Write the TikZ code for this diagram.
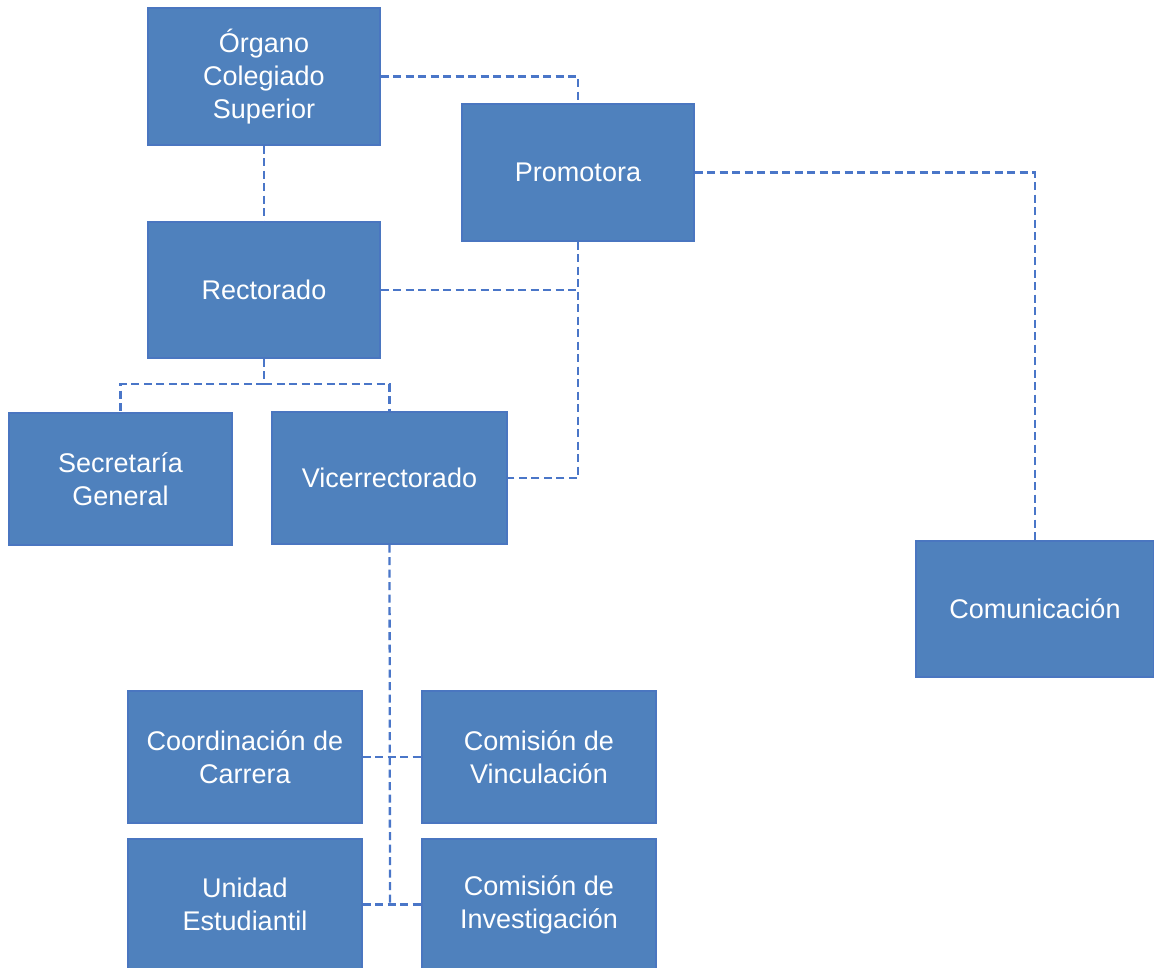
\documentclass[tikz,border=0pt]{standalone}
\usepackage{fontspec}
\setmainfont{Liberation Sans}
\definecolor{boxfill}{HTML}{4F81BD}
\definecolor{boxline}{HTML}{4A76C0}
\definecolor{conn}{HTML}{4A76C8}
\begin{document}
\begin{tikzpicture}[x=1pt,y=-1pt,
  orgbox/.style={draw=boxline,line width=1.2pt,fill=boxfill,text=white,
    align=center,inner sep=0pt,font=\fontsize{27}{33}\selectfont},
  conline/.style={draw=conn,line width=2.3pt,dash pattern=on 8pt off 4.5pt}]
\useasboundingbox (0,0) rectangle (1154,968);
\newcommand{\obox}[6]{\node[orgbox,minimum width=#4,minimum height=#5] (#1) at (#2,#3) {#6};}
\obox{org}{264}{76.5}{232}{137}{Órgano\\Colegiado\\Superior}
\obox{pro}{578}{172.5}{232}{137}{Promotora}
\obox{rec}{264}{290}{232}{136}{Rectorado}
\obox{sec}{120.5}{479}{223}{132}{Secretaría\\General}
\obox{vic}{389.5}{478}{235}{132}{Vicerrectorado}
\obox{com}{1035}{609}{238}{136}{Comunicación}
\obox{coo}{245}{757}{234}{132}{Coordinación de\\Carrera}
\obox{vin}{539}{757}{234}{132}{Comisión de\\Vinculación}
\obox{uni}{245}{904.5}{234}{131}{Unidad\\Estudiantil}
\obox{inv}{539}{904.5}{234}{131}{Comisión de\\Investigación}
\coordinate (j1) at (264,384);
\coordinate (j3) at (390,904.5);
\coordinate (j4) at (578,290);
\draw[conline] (org.east) -| (pro.north);
\draw[conline] (org.south) -- (rec.north);
\draw[conline] (pro.east) -| (com.north);
\draw[conline] (pro.south) |- (vic.east);
\draw[conline] (rec.east) -- (j4);
\draw[conline] (rec.south) -- (j1);
\draw[conline] (j1) -| (sec.north);
\draw[conline] (j1) -| (vic.north);
\draw[conline] (vic.south) -- (j3);
\draw[conline] (coo.east) -- (vin.west);
\draw[conline] (uni.east) -- (inv.west);
\end{tikzpicture}
\end{document}
